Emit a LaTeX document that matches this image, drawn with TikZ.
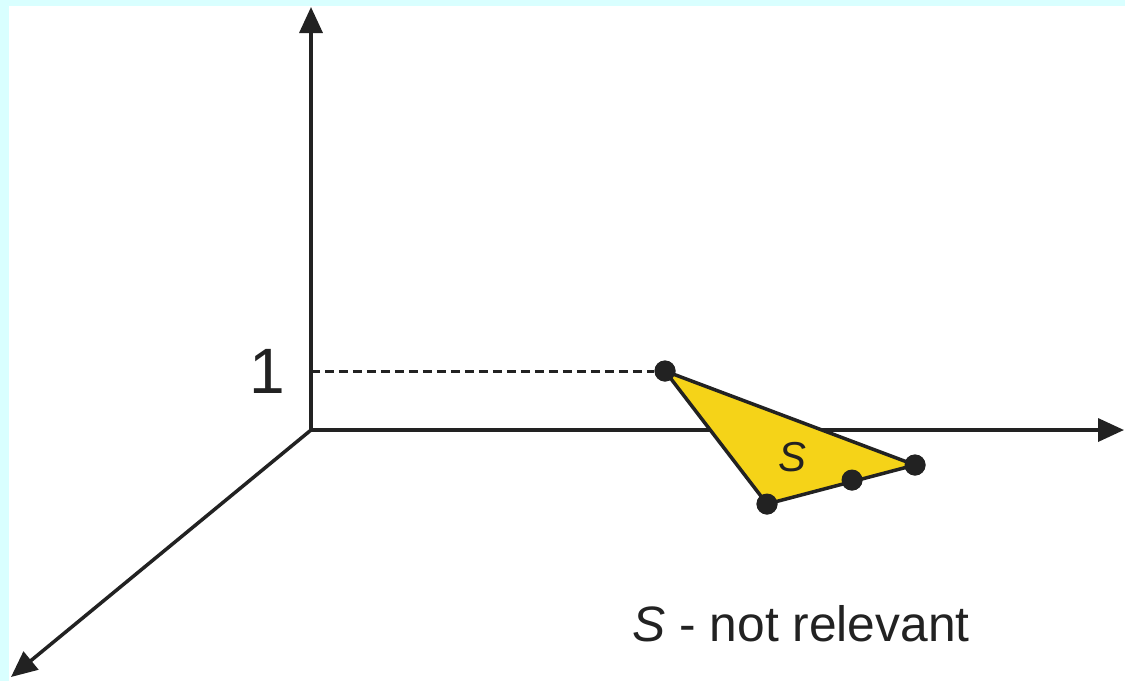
\documentclass[tikz,border=0pt]{standalone}
\usepackage{fontspec}
\setmainfont{Liberation Sans}
\usetikzlibrary{arrows.meta}
\definecolor{bgcyan}{HTML}{D9FFFF}
\definecolor{ink}{HTML}{222222}
\definecolor{sy}{HTML}{F5D318}
\tikzset{
  axis/.style={draw=ink, line width=0.07cm, -{Triangle[length=0.52cm,width=0.46cm]}},
  edge/.style={draw=ink, line width=0.07cm, line join=round},
  guide/.style={draw=ink, line width=0.06cm, dash pattern=on 0.18cm off 0.1cm},
  vdot/.style={circle, fill=ink, inner sep=0pt, minimum size=0.42cm},
  lbl/.style={text=ink, inner sep=0pt}
}
\begin{document}
\begin{tikzpicture}[x=0.02cm,y=-0.02cm]
\fill[bgcyan] (0,0) rectangle (1125,681);
\fill[white] (9,6) rectangle (1125,681);
\useasboundingbox (0,0) rectangle (1125,681);
\coordinate (O) at (311,430);
\coordinate (ytip) at (311,7);
\coordinate (xtip) at (1124,430);
\coordinate (ztip) at (11,677);
\draw[axis] (O) -- (ytip);
\draw[axis] (O) -- (xtip);
\draw[axis] (O) -- (ztip);
\coordinate (yone) at (311,371);
\node[vdot] (A) at (665,371) {};
\node[vdot] (B) at (915,465) {};
\node[vdot] (C) at (767,504) {};
\node[vdot] (D) at (852,480) {};
\draw[guide] (yone) -- (A.west);
\filldraw[edge, fill=sy] (A.center) -- (B.center) -- (C.center) -- cycle;
\node[vdot] at (A) {};
\node[vdot] at (B) {};
\node[vdot] at (C) {};
\node[vdot] at (D) {};
\node[lbl, font=\fontsize{36.5pt}{40pt}\selectfont] (one) at (267,371) {1};
\node[lbl, font=\fontsize{23.8pt}{28pt}\selectfont\itshape] (S) at (792,457) {S};
\node[lbl, font=\fontsize{28.3pt}{32pt}\selectfont] (note) at (801,624) {\textit{S} - not relevant};
\end{tikzpicture}
\end{document}
